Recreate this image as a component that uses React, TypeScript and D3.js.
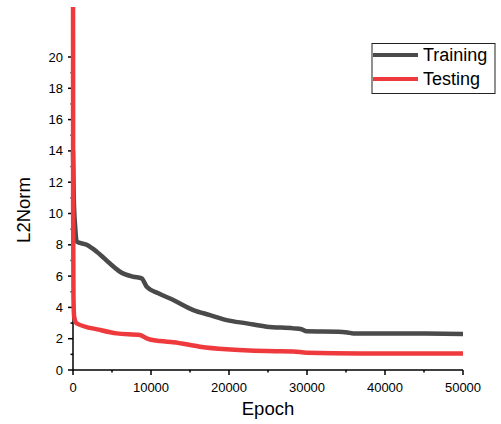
import * as d3 from "d3";

// Epochs and L2Norm values
const trainEpochs = [0, 100, 300, 470, 1750, 3040, 4740, 6025, 7730, 8800, 9450, 10940, 12860, 15430, 17560, 19700, 22270, 24830, 28240, 29300, 29950, 34000, 35200, 35940, 41000, 45230, 50000];
const trainValues = [14, 11, 9, 8.2, 8.0, 7.56, 6.8, 6.28, 5.96, 5.86, 5.32, 4.9, 4.47, 3.83, 3.51, 3.19, 2.98, 2.77, 2.66, 2.6, 2.47, 2.45, 2.4, 2.34, 2.34, 2.33, 2.3];

const testEpochs = [0, 20, 60, 150, 470, 3460, 5600, 8590, 9450, 11150, 12860, 16280, 19700, 24830, 28240, 29950, 36800, 50000];
const testValues = [30, 10, 4.6, 3.4, 2.98, 2.56, 2.34, 2.24, 2.02, 1.85, 1.78, 1.49, 1.32, 1.21, 1.19, 1.1, 1.06, 1.06];

const xTicks = [0, 10000, 20000, 30000, 40000, 50000];
const xMinor = [5000, 15000, 25000, 35000, 45000];
const yTicks = [0, 2, 4, 6, 8, 10, 12, 14, 16, 18, 20];
const yMinor = [1, 3, 5, 7, 9, 11, 13, 15, 17, 19];

const legendNames = ["Training", "Testing"];
const colors = ["#4a4a4a", "#ef3a3d"];

export default function App() {
  const width = 501;
  const height = 424;
  const left = 73, right = 463, top = 7, bottom = 370;
  const font = "Liberation Sans, Arial, sans-serif";

  const x = d3.scaleLinear().domain([0, 50000]).range([left, right]);
  const y = d3.scaleLinear().domain([0, 20]).range([bottom, 57]);

  const line = d3
    .line<[number, number]>()
    .x((d) => x(d[0]))
    .y((d) => y(d[1]))
    .curve(d3.curveMonotoneX);

  const train = trainEpochs.map((e, i) => [e, trainValues[i]] as [number, number]);
  const test = testEpochs.map((e, i) => [e, testValues[i]] as [number, number]);

  return (
    <svg
      width={width}
      height={height}
      style={{ position: "absolute", left: 0, top: 0, background: "#fff" }}
      fontFamily={font}
    >
      <defs>
        <clipPath id="plot">
          <rect x={left - 5} y={top} width={right - left + 30} height={bottom - top + 5} />
        </clipPath>
      </defs>

      {/* axes */}
      <line x1={left} x2={left} y1={top} y2={bottom} stroke="#000" strokeWidth={1.5} />
      <line x1={left} x2={right} y1={bottom} y2={bottom} stroke="#000" strokeWidth={1.5} />

      {yTicks.map((t) => (
        <g key={"y" + t}>
          <line x1={left - 5} x2={left} y1={y(t)} y2={y(t)} stroke="#000" strokeWidth={1.5} />
          <text x={left - 10} y={y(t)} dy="0.35em" textAnchor="end" fontSize={13}>
            {t}
          </text>
        </g>
      ))}
      {yMinor.map((t) => (
        <line key={"ym" + t} x1={left - 2.5} x2={left} y1={y(t)} y2={y(t)} stroke="#000" strokeWidth={1.5} />
      ))}

      {xTicks.map((t) => (
        <g key={"x" + t}>
          <line x1={x(t)} x2={x(t)} y1={bottom} y2={bottom + 5} stroke="#000" strokeWidth={1.5} />
          <text x={x(t)} y={bottom + 22} textAnchor="middle" fontSize={13}>
            {t}
          </text>
        </g>
      ))}
      {xMinor.map((t) => (
        <line key={"xm" + t} x1={x(t)} x2={x(t)} y1={bottom} y2={bottom + 2.5} stroke="#000" strokeWidth={1.5} />
      ))}

      {/* series */}
      <g clipPath="url(#plot)">
        <path d={line(train) ?? ""} fill="none" stroke={colors[0]} strokeWidth={4.5} strokeLinejoin="round" />
        <path d={line(test) ?? ""} fill="none" stroke={colors[1]} strokeWidth={4.5} strokeLinejoin="round" />
      </g>

      {/* axis titles */}
      <text x={268} y={415} textAnchor="middle" fontSize={18.5}>
        Epoch
      </text>
      <text transform="translate(30,210) rotate(-90)" textAnchor="middle" fontSize={18.5}>
        L2Norm
      </text>

      {/* legend */}
      <rect x={372} y={43.5} width={123} height={50} fill="#fff" stroke="#222" strokeWidth={1} />
      {legendNames.map((name, i) => (
        <g key={name}>
          <line x1={373} x2={418} y1={55 + i * 24} y2={55 + i * 24} stroke={colors[i]} strokeWidth={4} />
          <text x={423} y={55 + i * 24} dy="0.35em" fontSize={18}>
            {name}
          </text>
        </g>
      ))}
    </svg>
  );
}
